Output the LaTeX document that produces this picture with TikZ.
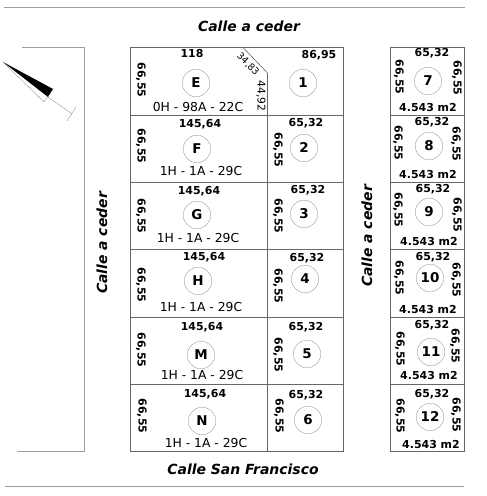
\documentclass[tikz,border=0pt]{standalone}
\usepackage{fontspec}
\setmainfont{DejaVu Sans}
\usepackage{xcolor}
\definecolor{lotline}{gray}{0.4}
\definecolor{roadline}{gray}{0.62}
\tikzset{
  lotmark/.style={draw=lotline,circle,very thin,minimum size=27.5bp,inner sep=0pt,font=\fontsize{13.5}{13.5}\selectfont\bfseries},
  lotside/.style={font=\fontsize{11}{11}\selectfont\bfseries},
  lotdown/.style={lotside,rotate=-90},
  lotarea/.style={font=\fontsize{12.4}{12.4}\selectfont},
  lotcut/.style={font=\fontsize{10.8}{10.8}\selectfont},
  street/.style={font=\fontsize{14}{14}\selectfont\bfseries\itshape}
}
\begin{document}
\begin{tikzpicture}[x=1bp,y=-1bp]
\useasboundingbox (0,0) rectangle (487,496);

% roads
\draw[roadline, line width=0.8pt] (4,7.5)--(465,7.5);
\draw[roadline, line width=0.8pt] (5,486)--(464,486);
\draw[roadline, line width=1pt] (22,47.5)--(84.5,47.5)--(84.5,451)--(17,451);

\node[street] (calletop) at (249,26) {Calle a ceder};
\node[street] (callebottom) at (243,469) {Calle San Francisco};
\node[street, rotate=90] (calleleft) at (102,243) {Calle a ceder};
\node[street, rotate=90] (calleright) at (367,236) {Calle a ceder};

% north arrow
\fill[black] (3,62)--(53,89)--(48,97)--cycle;
\draw[lotline, very thin] (3,62)--(44,102)--(53,89);
\draw[lotline, very thin] (48,97)--(72,114);
\draw[lotline, very thin] (76,107)--(67,121);

% main block
\begin{scope}[lotline, line width=0.6pt]
\draw (130,47.5)--(243,47.5)--(267.5,73)--(267.5,451);
\draw (243,47.5)--(343,47.5)--(343,451)--(130,451)--(130,47.5);
\draw (130,115.5)--(343,115.5);
\draw (130,182.5)--(343,182.5);
\draw (130,249.5)--(343,249.5);
\draw (130,317)--(343,317);
\draw (130,384.5)--(343,384.5);
\end{scope}

\node[lotside] (topE) at (192,54) {118};
\node[lotdown] (sideE) at (141,80) {66,55};
\node[lotmark] (E) at (196,83) {E};
\node[lotarea] (areaE) at (198,107) {0H - 98A - 22C};
\node[lotcut, inner sep=0pt, font=\fontsize{9.5}{9.5}\selectfont, rotate=-45] (cutA) at (248,64) {34,83};
\node[lotcut, inner sep=0pt, rotate=-90] (cutB) at (261,96) {44,92};

\node[lotside] (topF) at (200,124) {145,64};
\node[lotdown] (sideF) at (141,146) {66,55};
\node[lotmark] (F) at (197,149) {F};
\node[lotarea] (areaF) at (201,171) {1H - 1A - 29C};

\node[lotside] (topG) at (199,191) {145,64};
\node[lotdown] (sideG) at (141,216) {66,55};
\node[lotmark] (G) at (197,215) {G};
\node[lotarea] (areaG) at (198,238) {1H - 1A - 29C};

\node[lotside] (topH) at (204,257) {145,64};
\node[lotdown] (sideH) at (141,285) {66,55};
\node[lotmark] (H) at (198,281) {H};
\node[lotarea] (areaH) at (201,307) {1H - 1A - 29C};

\node[lotside] (topM) at (202,327) {145,64};
\node[lotdown] (sideM) at (141,350) {66,55};
\node[lotmark] (M) at (201,355) {M};
\node[lotarea] (areaM) at (202,375) {1H - 1A - 29C};

\node[lotside] (topN) at (205,394) {145,64};
\node[lotdown] (sideN) at (142,416) {66,55};
\node[lotmark] (N) at (202,421) {N};
\node[lotarea] (areaN) at (206,443) {1H - 1A - 29C};

\node[lotside] (top1) at (319,55) {86,95};
\node[lotmark] (lot1) at (303,83) {1};

\node[lotside] (top2) at (306,123) {65,32};
\node[lotdown] (side2) at (278,150) {66,55};
\node[lotmark] (lot2) at (304,148) {2};

\node[lotside] (top3) at (308,190) {65,32};
\node[lotdown] (side3) at (278,216) {66,55};
\node[lotmark] (lot3) at (304,214) {3};

\node[lotside] (top4) at (307,258) {65,32};
\node[lotdown] (side4) at (278,286) {66,55};
\node[lotmark] (lot4) at (305,279) {4};

\node[lotside] (top5) at (306,327) {65,32};
\node[lotdown] (side5) at (278,355) {66,55};
\node[lotmark] (lot5) at (307,354) {5};

\node[lotside] (top6) at (306,395) {65,32};
\node[lotdown] (side6) at (279,416) {66,55};
\node[lotmark] (lot6) at (308,420) {6};

% right block
\begin{scope}[lotline, line width=0.6pt]
\draw (390.5,47)--(464.5,47)--(464.5,451)--(390.5,451)--(390.5,47);
\draw (390.5,115)--(464.5,115);
\draw (390.5,182.5)--(464.5,182.5);
\draw (390.5,249.5)--(464.5,249.5);
\draw (390.5,317)--(464.5,317);
\draw (390.5,384.5)--(464.5,384.5);
\end{scope}

\node[lotside] (top7) at (432,53) {65,32};
\node[lotdown] (left7) at (399,77) {66,55};
\node[lotdown] (right7) at (457,78) {66,55};
\node[lotmark] (lot7) at (428,81) {7};
\node[lotside] (area7) at (428,108) {4.543 m2};

\node[lotside] (top8) at (432,122) {65,32};
\node[lotdown] (left8) at (398,143) {66,55};
\node[lotdown] (right8) at (456,144) {66,55};
\node[lotmark] (lot8) at (429,146) {8};
\node[lotside] (area8) at (428,175) {4.543 m2};

\node[lotside] (top9) at (433,189) {65,32};
\node[lotdown] (left9) at (398,210) {66,55};
\node[lotdown] (right9) at (457,215) {66,55};
\node[lotmark] (lot9) at (429,212) {9};
\node[lotside] (area9) at (429,242) {4.543 m2};

\node[lotside] (top10) at (433,257) {65,32};
\node[lotdown] (left10) at (399,278) {66,55};
\node[lotdown] (right10) at (456,280) {66,55};
\node[lotmark] (lot10) at (430,278) {10};
\node[lotside] (area10) at (428,310) {4.543 m2};

\node[lotside] (top11) at (432,325) {65,32};
\node[lotdown] (left11) at (400,349) {66,55};
\node[lotdown] (right11) at (455,346) {66,55};
\node[lotmark] (lot11) at (431,352) {11};
\node[lotside] (area11) at (429,376) {4.543 m2};

\node[lotside] (top12) at (432,394) {65,32};
\node[lotdown] (left12) at (400,416) {66,55};
\node[lotdown] (right12) at (456,415) {66,55};
\node[lotmark] (lot12) at (430,417) {12};
\node[lotside] (area12) at (431,445) {4.543 m2};

\end{tikzpicture}
\end{document}
